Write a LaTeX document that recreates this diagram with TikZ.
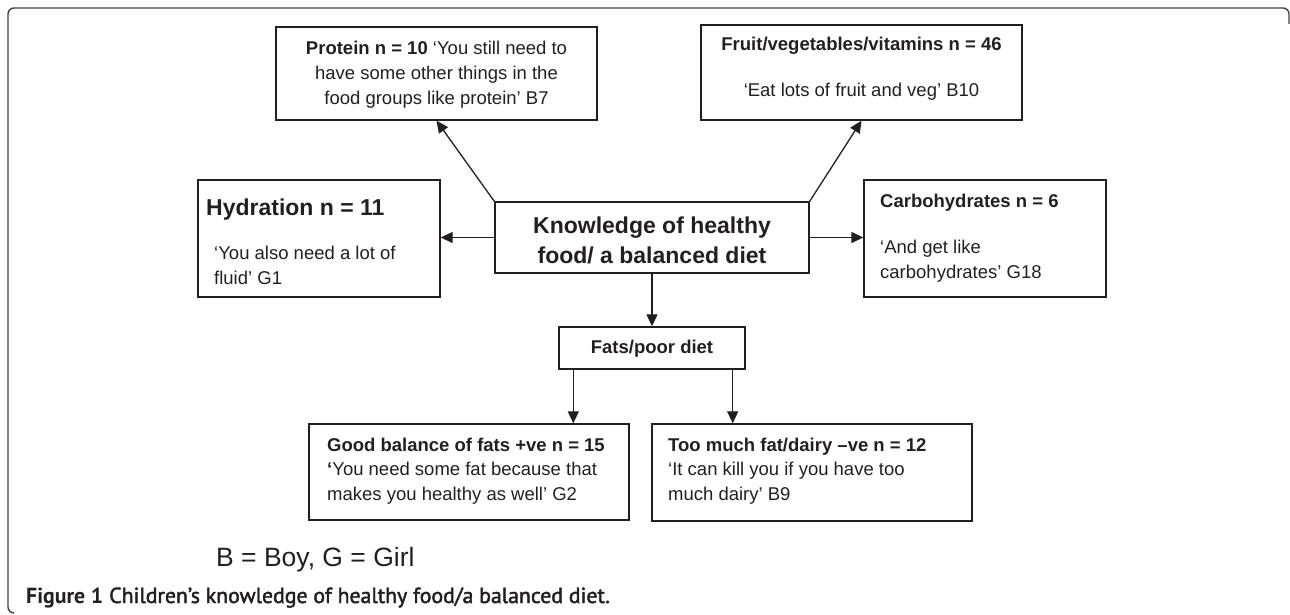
\documentclass[tikz,border=0pt]{standalone}
\usepackage{fontspec}
\setmainfont{Liberation Sans}
\newfontfamily\capfont{PT Sans}
\newfontfamily\capsemi{PT Sans}[FakeBold=2]
\usetikzlibrary{arrows.meta,calc}
\definecolor{ink}{HTML}{231F20}
\begin{document}
\begin{tikzpicture}[x=1pt,y=-1pt,
  box/.style={draw=ink, line width=1.4pt, inner sep=0pt, rectangle},
  txt/.style={inner sep=0pt, text=ink, font=\fontsize{18.5}{25}\selectfont},
  arr/.style={draw=ink, line width=1.3pt, -{Triangle[length=12pt,width=11pt]}},
  frame/.style={draw=ink!85, line width=1.4pt, rounded corners=6pt}]
\useasboundingbox (0,0) rectangle (1290,615);
% outer frame
\draw[frame] (1289,24) -- (1289,8) -- (8,8) -- (8,613) -- (14,613);
% boxes
\node[box, minimum width=321pt, minimum height=93pt] (protein) at (436.5,73.5) {};
\node[box, minimum width=321pt, minimum height=95pt] (fruit) at (861.5,72.5) {};
\node[box, minimum width=242pt, minimum height=117pt] (hydr) at (319,238.5) {};
\node[box, minimum width=314pt, minimum height=71pt] (center) at (652,237.5) {};
\node[box, minimum width=242pt, minimum height=117pt] (carbs) at (985,238.5) {};
\node[box, minimum width=186pt, minimum height=42pt] (fats) at (652,348) {};
\node[box, minimum width=320pt, minimum height=96pt] (good) at (469,472) {};
\node[box, minimum width=320pt, minimum height=97pt] (toomuch) at (812,472.5) {};
% texts
\node[txt, anchor=north, align=center] (proteinT) at (436.5,40.5)
  {{\bfseries Protein n = 10} ‘You still need to\\have some other things in the\\food groups like protein’ B7};
\node[txt, anchor=north, align=center] (fruitT) at (861.5,36.5)
  {{\bfseries Fruit/vegetables/vitamins n = 46}\\[21pt]‘Eat lots of fruit and veg’ B10};
\node[txt, anchor=north west, align=left] (hydrT) at (206,199)
  {{\fontsize{23}{25}\selectfont\bfseries Hydration n = 11}\\[18.5pt]\hspace*{8pt}‘You also need a lot of\\\hspace*{8pt}fluid’ G1};
\node[txt, anchor=north west, align=left] (carbsT) at (880,193.4)
  {{\bfseries Carbohydrates n = 6}\\[21pt]‘And get like\\carbohydrates’ G18};
\node[txt, anchor=north, align=center, font=\fontsize{23}{30}\selectfont\bfseries] (centerT) at (652,216.8)
  {Knowledge of healthy\\food/ a balanced diet};
\node[txt, anchor=base, font=\fontsize{18.5}{25}\selectfont\bfseries] (fatsT) at (652,353.5) {Fats/poor diet};
\node[txt, anchor=north west, align=left, font=\fontsize{18.5}{24.5}\selectfont] (goodT) at (327,437.7)
  {{\bfseries Good balance of fats +ve n = 15}\\{\bfseries ‘}You need some fat because that\\makes you healthy as well’ G2};
\node[txt, anchor=north west, align=left, font=\fontsize{18.5}{24.5}\selectfont] (toomuchT) at (668,437.7)
  {{\bfseries Too much fat/dairy –ve n = 12}\\‘It can kill you if you have too\\much dairy’ B9};
\node[txt, anchor=base west, font=\fontsize{26.5}{30}\selectfont] (legend) at (216,566) {B = Boy, G = Girl};
\node[txt, anchor=base west, font=\fontsize{21.8}{24}\selectfont] (caption) at (26,603)
  {{\capfont\bfseries Figure 1} {\capsemi Children’s knowledge of healthy food/a balanced diet.}};
% connectors
\draw[arr] (center.north west) -- (protein.south);
\draw[arr] (center.north east) -- (fruit.south);
\draw[arr] (center.west) -- (hydr.east |- center.west);
\draw[arr] (center.east) -- (carbs.west |- center.east);
\draw[arr] (center.south) -- (fats.north);
\coordinate (f1) at ($(fats.south west)+(15,0)$);
\coordinate (f2) at ($(fats.south east)+(-13,0)$);
\draw[arr] (f1) -- (f1 |- good.north);
\draw[arr] (f2) -- (f2 |- toomuch.north);
\end{tikzpicture}
\end{document}
